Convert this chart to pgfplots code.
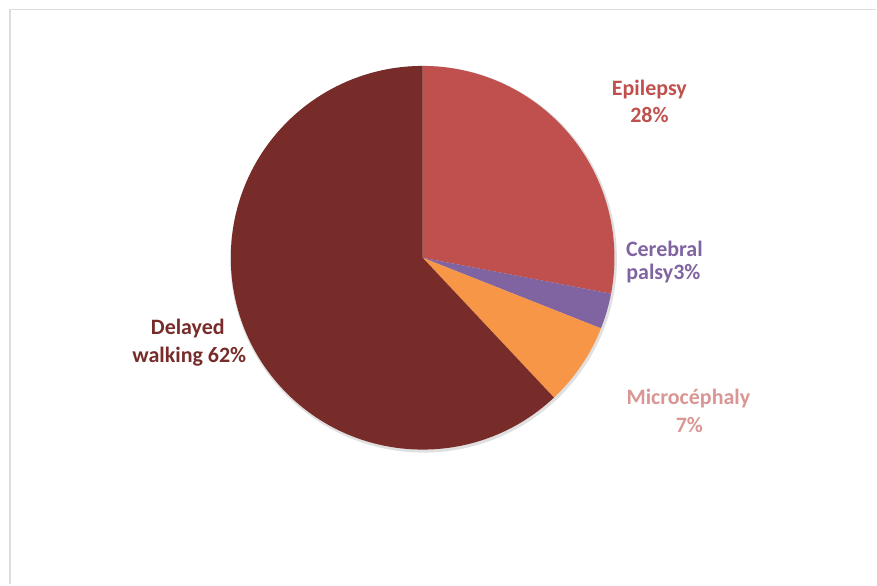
\documentclass[border=0pt]{standalone}
\usepackage{pgfplots}
\usepackage{pgfplotstable}
\pgfplotsset{compat=1.18}
\usepackage{fontspec}
\setmainfont{Carlito}

\definecolor{cEpi}{HTML}{C0504D}
\definecolor{cCer}{HTML}{8064A2}
\definecolor{cMic}{HTML}{F79646}
\definecolor{cDel}{HTML}{772C2A}
\definecolor{cMicTxt}{HTML}{D99694}
\definecolor{frame}{HTML}{DDDDDD}

% share of each slice, in percent, clockwise from 12 o'clock
\pgfplotstableread{
name        value  col
Epilepsy    28     cEpi
Cerebral    3      cCer
Micro       7      cMic
Delayed     62     cDel
}\piedata

\begin{document}
\begin{tikzpicture}
\begin{axis}[
    hide axis,
    x=1pt, y=1pt,
    xmin=-423, xmax=454,
    ymin=-327, ymax=258,
    clip=false,
]
  \path (axis cs:-423,-327) rectangle (axis cs:454,258);
  % light frame at top and left
  \draw[frame, line width=1.6pt] (axis cs:-413,-327) -- (axis cs:-413,248.5) -- (axis cs:454,248.5);

  % faint shadow round the pie
  \fill[black!12] (axis cs:1,-1.5) circle[radius=193.5pt];

  \pgfmathsetmacro\cum{0}
  \pgfplotsforeachungrouped \i in {0,...,3}{%
    \pgfplotstablegetelem{\i}{value}\of\piedata
    \let\v\pgfplotsretval
    \pgfplotstablegetelem{\i}{col}\of\piedata
    \let\c\pgfplotsretval
    \pgfmathsetmacro\sa{90-3.6*\cum}
    \pgfmathsetmacro\ea{90-3.6*(\cum+\v)}
    \edef\doit{\noexpand\fill[\c] (axis cs:0,0) -- ++(\sa:192pt)
      arc[start angle=\sa, end angle=\ea, radius=192pt] -- cycle;}
    \doit
    \pgfmathsetmacro\cum{\cum+\v}
  }

  \begin{scope}[every node/.style={anchor=base, inner sep=0pt,
      font=\fontsize{22}{27}\selectfont\bfseries}]
    \node[text=cEpi] at (axis cs:227,162) {Epilepsy};
    \node[text=cEpi] at (axis cs:227,135) {28\%};
    \node[text=cCer] at (axis cs:242,1.5) {Cerebral};
    \node[text=cCer] at (axis cs:241,-22) {palsy3\%};
    \node[text=cMicTxt] at (axis cs:266,-147) {Microcéphaly};
    \node[text=cMicTxt] at (axis cs:267,-175) {7\%};
    \node[text=cDel] at (axis cs:-235,-77) {Delayed};
    \node[text=cDel] at (axis cs:-233.5,-105) {walking 62\%};
  \end{scope}
\end{axis}
\end{tikzpicture}
\end{document}
